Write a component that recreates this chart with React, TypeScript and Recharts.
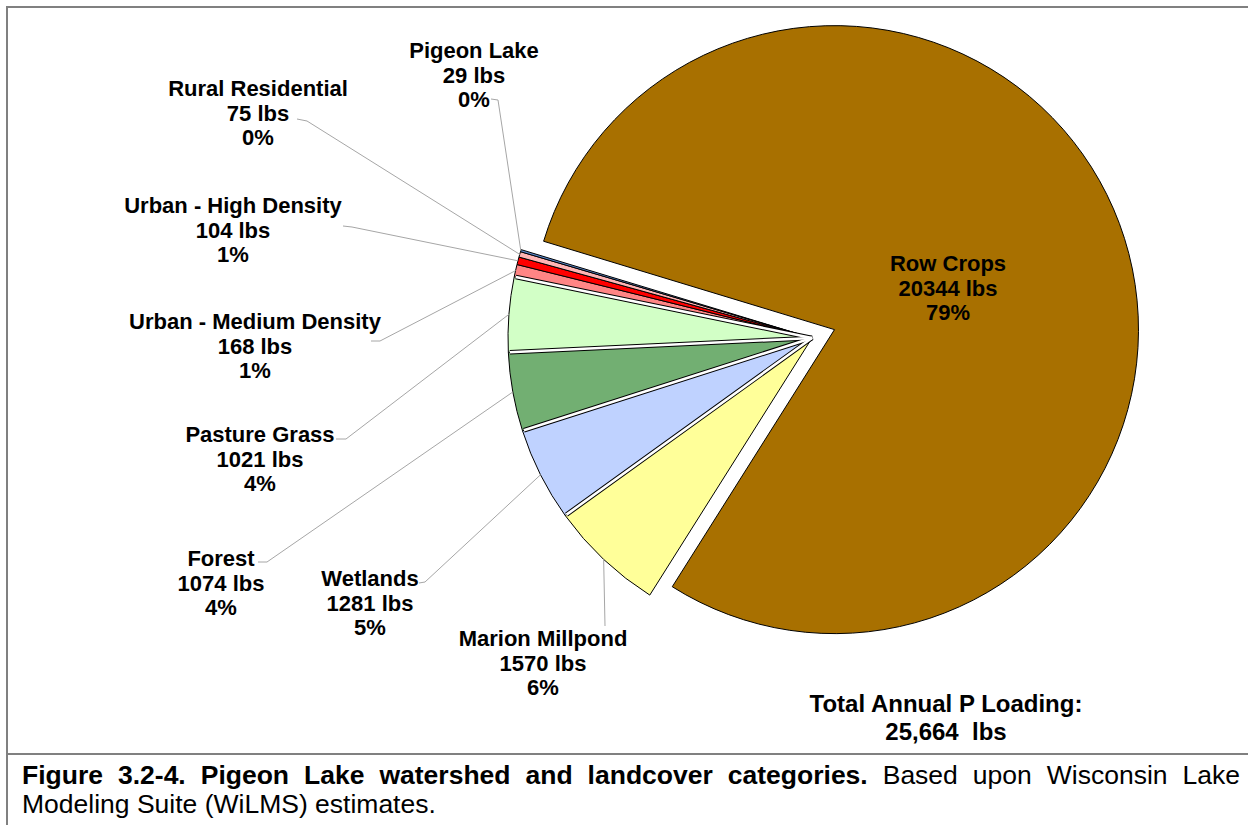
import React from 'react';
import { PieChart, Pie, Cell } from 'recharts';

// ---------- data ----------
const categories = [
  'Row Crops',
  'Marion Millpond',
  'Wetlands',
  'Forest',
  'Pasture Grass',
  'Urban - Medium Density',
  'Urban - High Density',
  'Rural Residential',
  'Pigeon Lake',
];
const loadsLbs = [20344, 1570, 1281, 1074, 1021, 168, 104, 75, 29];
const percentLabels = ['79%', '6%', '5%', '4%', '4%', '1%', '1%', '0%', '0%'];
const totalLabel = '25,664';

// ---------- styles ----------
const sliceColors = [
  '#A87000',
  '#FFFF99',
  '#BFD2FF',
  '#72AF72',
  '#D2FFC6',
  '#FF8585',
  '#FF0000',
  '#FFB4B4',
  '#5A8AD0',
];
const FONT = '"Liberation Sans", Arial, Helvetica, sans-serif';
const W = 1248;
const H = 825;
const CX = 812;
const CY = 338;
const R = 304;
const START = 163.1;
const EXPLODE = 24;

// label layout (page coordinates): first-line centre, leader points near the label
const labelLayout: Record<string, { x: number; y: number; leader: number[][] }> = {
  'Row Crops': { x: 948, y: 263, leader: [] },
  'Marion Millpond': { x: 543, y: 638, leader: [[605, 626]] },
  Wetlands: { x: 370, y: 578, leader: [[419, 583], [425, 582]] },
  Forest: { x: 221, y: 558, leader: [[258, 562], [267, 562]] },
  'Pasture Grass': { x: 260, y: 434, leader: [[336, 439], [346, 439]] },
  'Urban - Medium Density': { x: 255, y: 321, leader: [[371, 341], [380, 341]] },
  'Urban - High Density': { x: 233, y: 205, leader: [[343, 226], [352, 227]] },
  'Rural Residential': { x: 258, y: 88, leader: [[297, 119], [307, 121]] },
  'Pigeon Lake': { x: 474, y: 50, leader: [[491, 99], [498, 100]] },
};

const data = categories.map((name, i) => ({ name, value: loadsLbs[i], pct: percentLabels[i] }));
const sum = loadsLbs.reduce((a, b) => a + b, 0);
const rowShare = (loadsLbs[0] / sum) * 360;
const rowMid = ((START - rowShare / 2) * Math.PI) / 180;
const rowCx = CX + EXPLODE * Math.cos(rowMid);
const rowCy = CY - EXPLODE * Math.sin(rowMid);

const isLarge = (i: number) => i >= 1 && i <= 4;
const arcLen = (v: number) => R * (v / sum) * 2 * Math.PI;
// dash only the closing radial edge (path: arc, edge at endAngle, edge at startAngle)
const endEdgeDash = (v: number) => `0 ${arcLen(v) + 1.5} ${R - 1.5} ${R + 20}`;

const renderLabel = (props: any) => {
  const { cx, cy, midAngle, outerRadius, index } = props;
  const d = data[index];
  if (!d) return null;
  const lay = labelLayout[d.name];
  if (!lay) return null;
  const rad = (-midAngle * Math.PI) / 180;
  const ax = cx + outerRadius * Math.cos(rad);
  const ay = cy + outerRadius * Math.sin(rad);
  const pts = lay.leader.length ? [...lay.leader, [ax, ay]] : [];
  const lh = 24.5;
  return (
    <g key={`lbl-${index}`}>
      {pts.length > 0 && (
        <polyline
          points={pts.map((p) => p.join(',')).join(' ')}
          fill="none"
          stroke="#A6A6A6"
          strokeWidth={1}
        />
      )}
      <text
        x={lay.x}
        textAnchor="middle"
        fontFamily={FONT}
        fontSize={22}
        fontWeight="bold"
        fill="#000"
      >
        <tspan x={lay.x} y={lay.y + 8}>{d.name}</tspan>
        <tspan x={lay.x} y={lay.y + 8 + lh}>{`${d.value} lbs`}</tspan>
        <tspan x={lay.x} y={lay.y + 8 + 2 * lh}>{d.pct}</tspan>
      </text>
    </g>
  );
};

const pieCommon = {
  dataKey: 'value',
  nameKey: 'name',
  outerRadius: R,
  startAngle: START,
  endAngle: START - 360,
  isAnimationActive: false,
  labelLine: false,
};

export default function App() {
  return (
    <div style={{ position: 'absolute', left: 0, top: 0, width: W, height: H, background: '#fff', overflow: 'hidden' }}>
      {/* frame */}
      <div style={{ position: 'absolute', left: 6, top: 6, width: W - 6, height: 2, background: '#808080' }} />
      <div style={{ position: 'absolute', left: 6, top: 6, width: 2, height: H - 6, background: '#808080' }} />
      <div style={{ position: 'absolute', left: 6, top: 753, width: W - 6, height: 2, background: '#808080' }} />

      <div style={{ position: 'absolute', left: 0, top: 0 }}>
        <PieChart width={W} height={750} margin={{ top: 0, right: 0, bottom: 0, left: 0 }}>
          {/* exploded Row Crops slice */}
          <Pie data={data} {...pieCommon} cx={rowCx} cy={rowCy} isAnimationActive={false}>
            {data.map((d, i) => (
              <Cell
                key={`r-${i}`}
                fill={i === 0 ? sliceColors[0] : 'none'}
                stroke={i === 0 ? '#000' : 'none'}
                strokeWidth={1}
              />
            ))}
          </Pie>
          {/* remaining slices */}
          <Pie data={data} {...pieCommon} cx={CX} cy={CY} label={renderLabel} isAnimationActive={false}>
            {data.map((d, i) => (
              <Cell
                key={`a-${i}`}
                fill={i === 0 ? 'none' : sliceColors[i]}
                stroke={i === 0 ? 'none' : '#000'}
                strokeWidth={1}
              />
            ))}
          </Pie>
          {/* dark borders of the separators */}
          <Pie data={data} {...pieCommon} cx={CX} cy={CY} isAnimationActive={false}>
            {data.map((d, i) => (
              <Cell
                key={`b-${i}`}
                fill="none"
                stroke={isLarge(i) ? '#000' : 'none'}
                strokeWidth={4.6}
                strokeDasharray={endEdgeDash(d.value)}
              />
            ))}
          </Pie>
          {/* white separators */}
          <Pie data={data} {...pieCommon} cx={CX} cy={CY} isAnimationActive={false}>
            {data.map((d, i) => (
              <Cell
                key={`c-${i}`}
                fill="none"
                stroke={isLarge(i) ? '#fff' : 'none'}
                strokeWidth={2.6}
                strokeDasharray={endEdgeDash(d.value)}
              />
            ))}
          </Pie>
        </PieChart>
      </div>

      {/* total */}
      <div
        style={{
          position: 'absolute',
          left: 746,
          top: 690,
          width: 400,
          textAlign: 'center',
          fontFamily: FONT,
          fontSize: 24,
          fontWeight: 'bold',
          lineHeight: '28px',
          whiteSpace: 'pre',
          color: '#000',
        }}
      >
        <div>Total Annual P Loading:</div>
        <div>{`${totalLabel}  lbs`}</div>
      </div>

      {/* caption */}
      <div
        style={{
          position: 'absolute',
          left: 22,
          top: 761,
          width: 1218,
          fontFamily: FONT,
          fontSize: 26.5,
          lineHeight: '29px',
          color: '#000',
        }}
      >
        <div style={{ textAlign: 'justify', textAlignLast: 'justify' }}>
          <b>Figure 3.2-4. Pigeon Lake watershed and landcover categories.</b> Based upon Wisconsin Lake
        </div>
        <div>Modeling Suite (WiLMS) estimates.</div>
      </div>
    </div>
  );
}
